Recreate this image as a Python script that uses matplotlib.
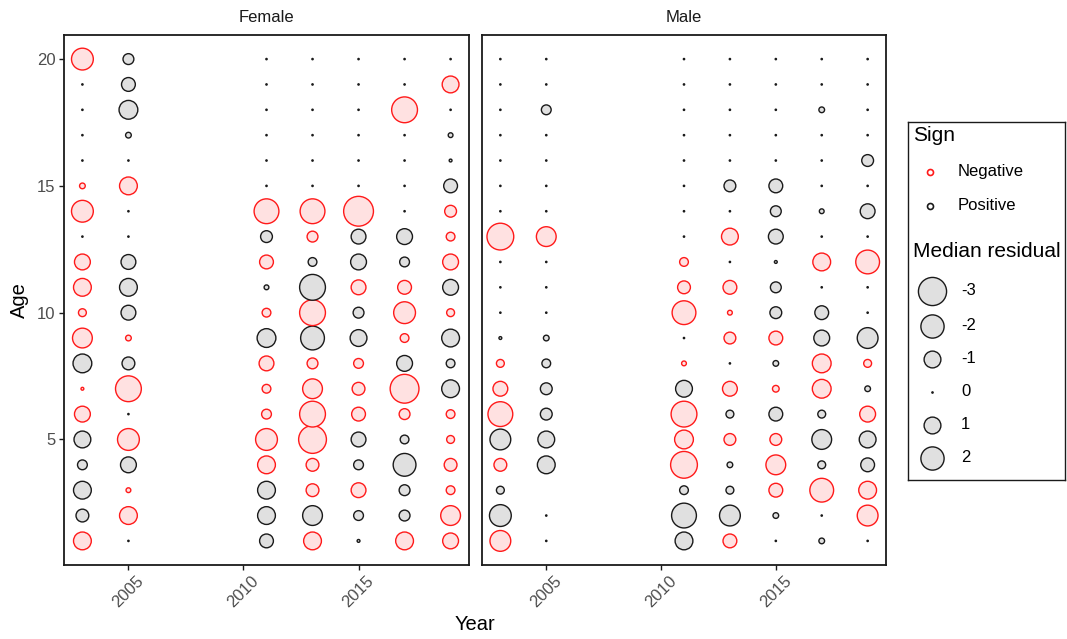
import numpy as np
import matplotlib
matplotlib.use("Agg")
import matplotlib.pyplot as plt

plt.rcParams['font.family'] = ['Liberation Sans', 'DejaVu Sans']

# ---------------- data ----------------
years = [2003, 2005, 2011, 2013, 2015, 2017, 2019]
ages = list(range(1, 21))
sexes = ["Female", "Male"]

# median residuals, ages 1..20 (nan = missing)
female_2003 = [-1.13, 0.55, 1.13, 0.30, 1.00, -0.88, -0.01, 1.27, -1.42, -0.18,
               -1.13, -0.88, 0, -1.75, -0.08, 0, 0, 0, 0, -1.75]
female_2005 = [0, -1.13, -0.05, 0.88, -1.75, 0, -2.50, 0.55, -0.08, 0.76,
               1.13, 0.76, 0, 0, -1.13, 0, 0.08, 1.27, 0.65, 0.38]
female_2011 = [0.65, 1.13, 1.13, -1.13, -1.75, -0.30, -0.23, -0.76, 1.27, -0.23,
               0.05, -0.65, 0.46, -2.30, 0, 0, 0, 0, 0, 0]
female_2013 = [-1.13, 1.42, -0.55, -0.55, -2.92, -2.50, -1.42, -0.38, 2.10, -2.50,
               2.50, 0.23, -0.38, -2.30, 0, 0, 0, 0, 0, 0]
female_2015 = [0.01, 0.30, -0.76, 0.30, 0.76, -0.65, -0.55, -0.30, 1.00, 0.38,
               -0.76, 0.88, 0.76, -3.38, 0, 0, 0, 0, 0, 0]
female_2017 = [-1.13, 0.38, 0.38, 1.92, 0.23, -0.38, -3.15, 0.88, -0.23, -1.75,
               -0.65, 0.30, 0.88, 0, 0, 0, 0, -2.50, 0, 0]
female_2019 = [-0.88, -1.42, -0.23, -0.55, -0.18, -0.23, 1.13, 0.23, 1.13, -0.18,
               0.88, -0.88, -0.23, -0.46, 0.65, 0.01, 0.05, 0, -1.00, 0]

male_2003 = [-1.58, 1.75, 0.18, -0.55, 1.58, -2.30, -0.76, -0.18, 0.01, 0,
             0, 0, -2.70, 0, 0, 0, 0, 0, 0, 0]
male_2005 = [0, 0, np.nan, 1.13, 1.00, 0.46, 0.46, 0.23, 0.08, 0,
             0, 0, -1.42, 0, 0, 0, 0, 0.30, 0, 0]
male_2011 = [1.13, 2.30, 0.23, -2.70, -1.27, -2.50, 1.00, -0.05, 0, -2.10,
             -0.55, -0.23, 0, 0, 0, 0, 0, 0, 0, 0]
male_2013 = [-0.65, 1.58, 0.18, 0.08, -0.46, 0.18, -0.76, 0, -0.46, -0.05,
             -0.65, 0, -1.00, 0, 0.46, 0, 0, 0, 0, 0]
male_2015 = [0, 0.08, -0.65, -1.42, -0.46, 0.65, -0.12, 0.08, -0.65, 0.46,
             0.38, 0.01, 0.76, 0.38, 0.65, 0, 0, 0, 0, 0]
male_2017 = [0.08, 0, -2.10, 0.18, 1.42, 0.18, -1.27, -1.27, 0.88, 0.65,
             0, -1.13, 0, 0.05, 0, 0, 0, 0.08, 0, 0]
male_2019 = [0, -1.58, -1.13, 0.65, 1.00, -0.88, 0.08, -0.18, 1.58, 0,
             0, -2.10, 0, 0.76, 0, 0.46, 0, 0, 0, 0]

residuals = {
    "Female": [female_2003, female_2005, female_2011, female_2013,
               female_2015, female_2017, female_2019],
    "Male": [male_2003, male_2005, male_2011, male_2013,
             male_2015, male_2017, male_2019],
}

sign_labels = ["Negative", "Positive"]
size_breaks = [-3, -2, -1, 0, 1, 2]

# ---------------- style ----------------
W, H, DPI = 1067, 639, 100
RED = "#ff1a1a"
BLACK = "#1a1a1a"
PINK = "#ffe1e1"
GREY = "#e0e0e0"
LW = 1.0
TICKC = "#4d4d4d"


def marker_area(r):
    d_px = 1.3 + 15.5 * np.sqrt(np.abs(r))
    return (d_px * 72.0 / DPI) ** 2


fig = plt.figure(figsize=(W / DPI, H / DPI), dpi=DPI)


def px_axes(x0, y0, x1, y1):
    return fig.add_axes([x0 / W, 1 - y1 / H, (x1 - x0) / W, (y1 - y0) / H])


panels = [(64, 469), (482, 886)]
for i, sex in enumerate(sexes):
    x0, x1 = panels[i]
    ax = px_axes(x0, 35, x1, 565)
    cols = residuals[sex]
    X, Y, R = [], [], []
    for yr, col in zip(years, cols):
        for a, r in zip(ages, col):
            if np.isnan(r):
                continue
            X.append(yr)
            Y.append(a)
            R.append(r)
    X = np.array(X); Y = np.array(Y); R = np.array(R)
    neg = R < 0
    fc = np.where(neg, PINK, np.where(R == 0, BLACK, GREY))
    ec = np.where(neg, RED, BLACK)
    ax.scatter(X, Y, s=marker_area(R), facecolors=list(fc), edgecolors=list(ec),
               linewidths=LW, zorder=3)
    ax.set_xlim(2002.2, 2019.8)
    ax.set_ylim(0.05, 20.95)
    ax.set_xticks([2005, 2010, 2015])
    ax.set_yticks([5, 10, 15, 20])
    for s in ax.spines.values():
        s.set_color(BLACK)
        s.set_linewidth(1.3)
    ax.tick_params(axis="both", colors=BLACK, labelcolor=TICKC, labelsize=12,
                   length=3.5, width=1.0, direction="out", pad=2.5)
    for lab in ax.get_xticklabels():
        lab.set_rotation(45)
        lab.set_ha("center")
        lab.set_va("top")
    if i == 1:
        ax.tick_params(axis="y", left=False, labelleft=False)
    ax.text(0.5, 1.0 + 17 / 530, sex, transform=ax.transAxes, ha="center",
            va="center", fontsize=12, color=BLACK)

fig.text(475 / W, 1 - 625 / H, "Year", ha="center", va="center", fontsize=14.5,
         color="black")
fig.text(19 / W, 1 - 300 / H, "Age", ha="center", va="center", fontsize=14.5,
         rotation=90, color="black")

# ---------------- legend ----------------
lax = px_axes(908, 122, 1065, 480)
lax.set_xlim(908, 1065)
lax.set_ylim(480, 122)
lax.set_xticks([]); lax.set_yticks([])
for s in lax.spines.values():
    s.set_color(BLACK)
    s.set_linewidth(1.0)

lax.text(913, 136, "Sign", ha="left", va="center", fontsize=15)
sign_y = [172, 206]
for lab, yy in zip(sign_labels, sign_y):
    col = RED if lab == "Negative" else BLACK
    lax.scatter([930], [yy], s=(6 * 0.72) ** 2, facecolors="white",
                edgecolors=col, linewidths=1.2, clip_on=False)
    lax.text(958, yy, lab, ha="left", va="center", fontsize=12)

lax.text(913, 252, "Median residual", ha="left", va="center", fontsize=15)
size_y = [291, 326, 359, 392, 425, 458]
for b, yy in zip(size_breaks, size_y):
    fcol = BLACK if b == 0 else GREY
    lax.scatter([932], [yy], s=marker_area(b), facecolors=fcol,
                edgecolors=BLACK, linewidths=LW, clip_on=False)
    lax.text(961, yy, str(b), ha="left", va="center", fontsize=12)

fig.savefig("out.png", dpi=DPI)
